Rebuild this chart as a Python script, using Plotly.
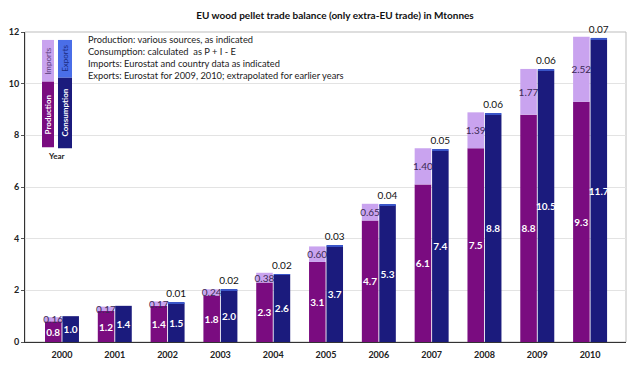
import plotly.graph_objects as go

years = ["2000", "2001", "2002", "2003", "2004", "2005", "2006", "2007", "2008", "2009", "2010"]
production = [0.8, 1.2, 1.4, 1.8, 2.3, 3.1, 4.7, 6.1, 7.5, 8.8, 9.3]
imports = [0.16, 0.17, 0.17, 0.24, 0.38, 0.60, 0.65, 1.40, 1.39, 1.77, 2.52]
consumption = [1.0, 1.4, 1.5, 2.0, 2.6, 3.7, 5.3, 7.4, 8.8, 10.5, 11.7]
exports = [0.0, 0.0, 0.01, 0.02, 0.02, 0.03, 0.04, 0.05, 0.06, 0.06, 0.07]
y_ticks = [0, 2, 4, 6, 8, 10, 12]
notes = [
    "Production: various sources, as indicated",
    "Consumption: calculated  as P + I - E",
    "Imports: Eurostat and country data as indicated",
    "Exports: Eurostat for 2009, 2010; extrapolated for earlier years",
]

C_PROD = "#7A0C80"
C_IMP = "#C9A3EF"
C_CONS = "#1B1B7D"
C_EXP = "#3A55C8"
C_EXP_LEG = "#4A6EE8"
FONT = "Lato"

W, H = 632, 366
ML, MR, MT, MB = 25, 6, 32, 22
PW, PH = W - ML - MR, H - MT - MB


def px(x):
    return (x - ML) / PW


def py(y):
    return (H - MB - y) / PH


fig = go.Figure()
fig.add_trace(go.Bar(
    x=years, y=production, offsetgroup="P", marker=dict(color=C_PROD, line=dict(width=0)),
    text=[f"{v:.1f}" for v in production], textposition="inside", insidetextanchor="middle",
    textangle=0, textfont=dict(color="white", family=FONT, size=10, weight="bold"),
    name="Production", hoverinfo="skip"))
fig.add_trace(go.Bar(
    x=years, y=imports, base=production, offsetgroup="P", marker=dict(color=C_IMP, line=dict(width=0)),
    text=[f"{v:.2f}" for v in imports], textposition="inside", insidetextanchor="middle",
    textangle=0, textfont=dict(color="#3b2a55", family=FONT, size=10),
    name="Imports", hoverinfo="skip"))
fig.add_trace(go.Bar(
    x=years, y=consumption, offsetgroup="C", marker=dict(color=C_CONS, line=dict(width=0)),
    text=[f"{v:.1f}" for v in consumption], textposition="inside", insidetextanchor="middle",
    textangle=0, textfont=dict(color="white", family=FONT, size=10, weight="bold"),
    name="Consumption", hoverinfo="skip"))
fig.add_trace(go.Bar(
    x=years, y=exports, base=consumption, offsetgroup="C", marker=dict(color=C_EXP, line=dict(width=0)),
    text=[f"{v:.2f}" if v > 0 else "" for v in exports], textposition="outside",
    textangle=0, textfont=dict(color="#111111", family=FONT, size=10),
    cliponaxis=False, name="Exports", hoverinfo="skip"))

shapes = []
annotations = []
# inset legend graphic
boxes = [
    (42, 54, 40, 82, C_IMP), (42, 54, 82, 148, C_PROD),
    (58, 72, 40, 78, C_EXP_LEG), (58, 72, 78, 149, C_CONS),
]
for x0, x1, y0, y1, c in boxes:
    shapes.append(dict(type="rect", xref="paper", yref="paper", x0=px(x0), x1=px(x1),
                       y0=py(y1), y1=py(y0), fillcolor=c, line=dict(width=0), layer="above"))
leg_texts = [
    ("Imports", 48, 61, "#5a3a7a", "normal"), ("Production", 48, 115, "white", "bold"),
    ("Exports", 65, 59, "#1a2a80", "normal"), ("Consumption", 65, 113, "white", "bold"),
]
for t, x, y, c, w in leg_texts:
    annotations.append(dict(text=t, xref="paper", yref="paper", x=px(x), y=py(y), showarrow=False,
                            textangle=-90, font=dict(family=FONT, size=8, color=c, weight=w),
                            xanchor="center", yanchor="middle"))
annotations.append(dict(text="Year", xref="paper", yref="paper", x=px(56), y=py(157), showarrow=False,
                        font=dict(family=FONT, size=8, color="#222", weight="bold"),
                        xanchor="center", yanchor="middle"))
for i, t in enumerate(notes):
    annotations.append(dict(text=t, xref="paper", yref="paper", x=px(86), y=py(40 + 11.8 * i),
                            showarrow=False, font=dict(family=FONT, size=9.3, color="#222"),
                            xanchor="left", yanchor="middle"))

fig.update_layout(
    width=W, height=H, margin=dict(l=ML, r=MR, t=MT, b=MB),
    barmode="group", bargap=0.34, bargroupgap=0.05,
    paper_bgcolor="white", plot_bgcolor="white", showlegend=False,
    uniformtext=dict(mode="show", minsize=9),
    title=dict(text="<b>EU wood pellet trade balance (only extra-EU trade) in Mtonnes</b>",
               x=335 / W, xanchor="center", y=1 - 15 / H, yanchor="middle",
               font=dict(family=FONT, size=10, color="#111")),
    xaxis=dict(range=[-0.70, 10.68], showline=True, linecolor="#333", linewidth=1,
               tickfont=dict(family=FONT, size=9, color="#222", weight="bold"),
               ticks="outside", ticklen=4, tickcolor="rgba(0,0,0,0)", showgrid=False, mirror=False),
    yaxis=dict(range=[0, 12], tickvals=y_ticks, showline=True, linecolor="#333", linewidth=1,
               ticks="outside", ticklen=3, tickcolor="#555",
               tickfont=dict(family=FONT, size=9, color="#222", weight="bold"),
               showgrid=True, gridcolor="#e3e3e3", gridwidth=1, zeroline=False),
    shapes=shapes + [dict(type="rect", xref="paper", yref="paper", x0=0, x1=1, y0=0, y1=1,
                          line=dict(color="#bdbdbd", width=1), layer="below")],
    annotations=annotations,
)
fig.write_html("out.html", config={"displayModeBar": False},
               post_script="document.body.style.margin='0';document.body.style.overflow='hidden';")
